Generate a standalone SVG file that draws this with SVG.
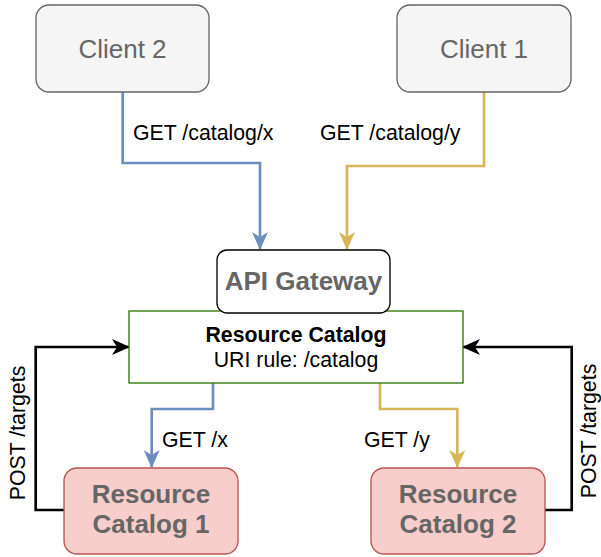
<svg xmlns="http://www.w3.org/2000/svg" width="601" height="557" viewBox="0 0 601 557">
  <style>
    .client { fill: #f5f5f5; stroke: #666666; stroke-width: 1.33; }
    .gateway { fill: #ffffff; stroke: #000000; stroke-width: 1.33; }
    .catalog { fill: #ffffff; stroke: #2d7600; stroke-width: 1.33; }
    .backend { fill: #f8cecc; stroke: #b85450; stroke-width: 1.33; }
    .node-text { font-family: "Liberation Sans", Arial, sans-serif; font-size: 26px; fill: #666666; text-anchor: middle; }
    .bold { font-weight: bold; }
    .label { font-family: "Liberation Sans", Arial, sans-serif; font-size: 21.3px; fill: #000000; }
    .mid { text-anchor: middle; }
    .edge { fill: none; stroke-width: 2.67; }
    .blue { stroke: #6c8ebf; }
    .yellow { stroke: #d6b656; }
    .black { stroke: #000000; }
  </style>
  <defs>
    <marker id="arrow-blue" viewBox="0 0 18 16" refX="17" refY="8" markerWidth="18" markerHeight="16" markerUnits="userSpaceOnUse" orient="auto">
      <path d="M0,0 L18,8 L0,16 L5,8 Z" fill="#6c8ebf"/>
    </marker>
    <marker id="arrow-yellow" viewBox="0 0 18 16" refX="17" refY="8" markerWidth="18" markerHeight="16" markerUnits="userSpaceOnUse" orient="auto">
      <path d="M0,0 L18,8 L0,16 L5,8 Z" fill="#d6b656"/>
    </marker>
    <marker id="arrow-black" viewBox="0 0 18 16" refX="17" refY="8" markerWidth="18" markerHeight="16" markerUnits="userSpaceOnUse" orient="auto">
      <path d="M0,0 L18,8 L0,16 L5,8 Z" fill="#000000"/>
    </marker>
  </defs>

  <!-- connectors -->
  <g id="connectors">
    <path class="edge blue" d="M122.7,92 V163 H260 V249" marker-end="url(#arrow-blue)"/>
    <path class="edge yellow" d="M484,92 V166 H347 V249" marker-end="url(#arrow-yellow)"/>
    <path class="edge blue" d="M213,383 V409 H151.7 V467" marker-end="url(#arrow-blue)"/>
    <path class="edge yellow" d="M380,383 V409 H457.3 V467" marker-end="url(#arrow-yellow)"/>
    <path class="edge black" d="M64,510 H35.7 V347 H129" marker-end="url(#arrow-black)"/>
    <path class="edge black" d="M545,510 H571.7 V347 H463" marker-end="url(#arrow-black)"/>
    <text class="label" x="133" y="140">GET /catalog/x</text>
    <text class="label" x="320" y="140">GET /catalog/y</text>
    <text class="label" x="162" y="447">GET /x</text>
    <text class="label" x="364" y="447">GET /y</text>
    <text class="label mid" transform="translate(25,433) rotate(-90)">POST /targets</text>
    <text class="label mid" transform="translate(595.5,431) rotate(-90)">POST /targets</text>
  </g>

  <!-- clients -->
  <g id="client-2">
    <rect class="client" x="36" y="5" width="173" height="87" rx="13"/>
    <text class="node-text" x="122.5" y="58">Client 2</text>
  </g>
  <g id="client-1">
    <rect class="client" x="397" y="5" width="174" height="87" rx="13"/>
    <text class="node-text" x="484" y="58">Client 1</text>
  </g>

  <!-- gateway with its routing rule -->
  <g id="resource-catalog-route">
    <rect class="catalog" x="129" y="311" width="334" height="72"/>
    <text class="label mid bold" x="296" y="342">Resource Catalog</text>
    <text class="label mid" x="296" y="367">URI rule: /catalog</text>
  </g>
  <g id="api-gateway">
    <rect class="gateway" x="217" y="250" width="173" height="63" rx="10"/>
    <text class="node-text bold" x="303.5" y="290">API Gateway</text>
  </g>

  <!-- backends -->
  <g id="resource-catalog-1">
    <rect class="backend" x="64" y="468" width="174" height="86" rx="13"/>
    <text class="node-text bold" x="151" y="503">Resource</text>
    <text class="node-text bold" x="151" y="533">Catalog 1</text>
  </g>
  <g id="resource-catalog-2">
    <rect class="backend" x="371" y="468" width="174" height="86" rx="13"/>
    <text class="node-text bold" x="458" y="503">Resource</text>
    <text class="node-text bold" x="458" y="533">Catalog 2</text>
  </g>
</svg>
